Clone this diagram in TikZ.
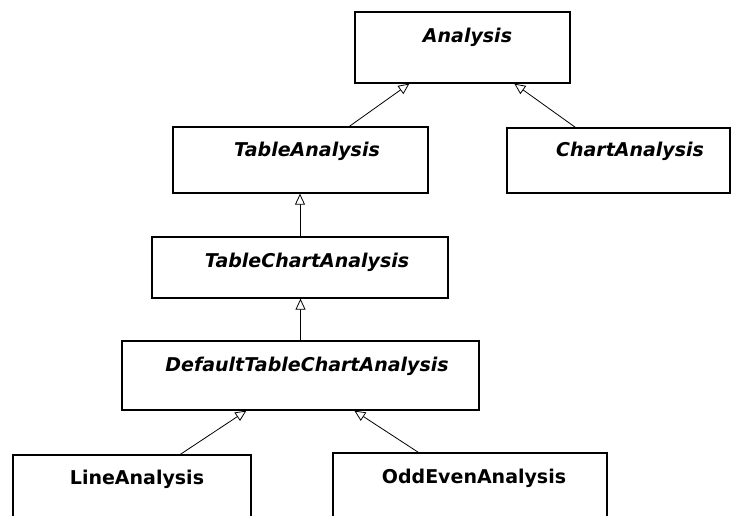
\documentclass[tikz,border=0pt]{standalone}
\usepackage{fontspec}
\setmainfont{DejaVu Sans}
\usetikzlibrary{arrows.meta,calc}

\tikzset{
  cls/.style={draw=black, line width=1.3pt, rectangle, inner sep=0pt, fill=white},
  abstractname/.style={anchor=base, inner sep=0pt, font=\fontsize{19}{21}\selectfont\bfseries\itshape},
  concretename/.style={anchor=base, inner sep=0pt, font=\fontsize{19}{21}\selectfont\bfseries},
  inherit/.style={draw=black, line width=0.8pt,
    -{Triangle[open, length=11pt, width=10pt, fill=white, line width=0.8pt]}}
}

\begin{document}
\begin{tikzpicture}[x=1pt, y=-1pt]
  \useasboundingbox (0,0) rectangle (731,515);

  % class boxes
  \node[cls, minimum width=215pt, minimum height=71pt] (an)   at (462.5,47.5) {};
  \node[cls, minimum width=255pt, minimum height=66pt] (ta)   at (300.5,160)  {};
  \node[cls, minimum width=223pt, minimum height=65pt] (ca)   at (618.5,160.5){};
  \node[cls, minimum width=296pt, minimum height=61pt] (tca)  at (300,267.5)  {};
  \node[cls, minimum width=357pt, minimum height=69pt] (dtca) at (300.5,375.5){};
  \node[cls, minimum width=238pt, minimum height=100pt] (la)  at (132,505)    {};
  \node[cls, minimum width=274pt, minimum height=100pt] (oe)  at (470,503)    {};

  % class names
  \node[abstractname] (anT)   at (467.5,42)  {Analysis};
  \node[abstractname] (taT)   at (307,156)   {TableAnalysis};
  \node[abstractname] (caT)   at (630,156)   {ChartAnalysis};
  \node[abstractname] (tcaT)  at (307,267)   {TableChartAnalysis};
  \node[abstractname] (dtcaT) at (307,371)   {DefaultTableChartAnalysis};
  \node[concretename] (laT)   at (137,484)   {LineAnalysis};
  \node[concretename] (oeT)   at (474,483)   {OddEvenAnalysis};

  % generalisation arrows
  \draw[inherit] ($(ta.north west)+(177,0)$) -- ($(an.south west)+(55,0)$);
  \draw[inherit] ($(ca.north west)+(69,0)$)  -- ($(an.south west)+(160,0)$);
  \draw[inherit] (tca.north) -- (tca.north |- ta.south);
  \draw[inherit] (dtca.north) -- (dtca.north |- tca.south);
  \draw[inherit] ($(la.north west)+(168,0)$) -- ($(dtca.south west)+(125,0)$);
  \draw[inherit] ($(oe.north west)+(86,0)$)  -- ($(dtca.south west)+(233,0)$);
\end{tikzpicture}
\end{document}
